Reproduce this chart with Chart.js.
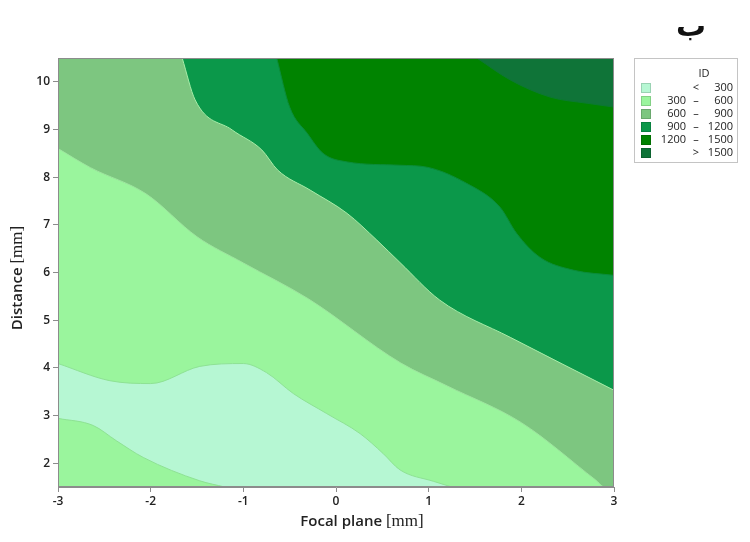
<!DOCTYPE html>
<html lang="en">
<head>
    <meta charset="UTF-8">
    <title>ID contour - Focal plane vs Distance</title>
    <style>
        html, body { margin: 0; padding: 0; background: #fff; }
        .chart-container { position: relative; width: 750px; height: 542px; }
    </style>
    <script src="https://cdn.jsdelivr.net/npm/chart.js"></script>
</head>
<body>
    <div class="chart-container">
        <canvas id="contourChart"></canvas>
    </div>

    <script>
        // axis ticks
        const xTicks = [-3, -2, -1, 0, 1, 2, 3];
        const yTicks = [2, 3, 4, 5, 6, 7, 8, 9, 10];

        // contour levels (legend rows: left value, sign, right value)
        const levelLabels = [
            ['', '<', '300'],
            ['300', '–', '600'],
            ['600', '–', '900'],
            ['900', '–', '1200'],
            ['1200', '–', '1500'],
            ['', '>', '1500']
        ];
        const levelColors = ['#b6f7d3', '#9af59d', '#7dc680', '#0b984a', '#008300', '#0f7438'];

        // contour boundaries, [focal plane, distance]
        const plotTop = [[-3, 10.5], [3, 10.5]];
        const edge300Upper = [[-3, 4.09], [-2.44, 3.73], [-2.0, 3.67], [-1.47, 4.03], [-1.0, 4.09], [-0.75, 3.9],
            [-0.46, 3.46], [-0.1, 3.04], [0.26, 2.62], [0.51, 2.2], [0.69, 1.86], [1.05, 1.62], [1.25, 1.5]];
        const edge300Lower = [[-3, 2.94], [-2.62, 2.79], [-2.37, 2.47], [-2.08, 2.12], [-1.47, 1.63], [-1.2, 1.5]];
        const edge600 = [[-3, 8.6], [-2.65, 8.2], [-2.05, 7.65], [-1.5, 6.75], [-1.0, 6.2], [-0.3, 5.45],
            [0.7, 4.1], [1.2, 3.62], [2.0, 2.85], [2.8, 1.65], [2.9, 1.5], [3, 1.5]];
        const edge900 = [[-1.66, 10.5], [-1.52, 9.62], [-1.12, 8.99], [-0.8, 8.57], [-0.63, 8.15],
            [-0.28, 7.73], [0.12, 7.24], [0.44, 6.68], [0.69, 6.21], [1.12, 5.42], [1.88, 4.64], [3, 3.53]];
        const edge1200 = [[-0.64, 10.5], [-0.5, 9.47], [-0.31, 8.92], [-0.14, 8.5], [0.12, 8.32], [0.69, 8.25],
            [0.98, 8.21], [1.41, 7.87], [1.77, 7.37], [1.95, 6.82], [2.2, 6.32], [2.56, 6.05], [3, 5.94]];
        const edge1500 = [[1.52, 10.5], [1.88, 10.04], [2.31, 9.68], [2.71, 9.55], [3, 9.47]];

        const sansFont = "'Open Sans', 'Noto Sans', sans-serif";
        const serifFont = "'Liberation Serif', 'DejaVu Serif', serif";

        // one filled boundary line; higher order is painted first (underneath)
        function region(points, fillTo, color, border, order) {
            return {
                data: points.map(p => ({ x: p[0], y: p[1] })),
                fill: fillTo,
                backgroundColor: color,
                borderColor: border,
                borderWidth: 1,
                pointRadius: 0,
                cubicInterpolationMode: 'monotone',
                order: order
            };
        }

        // draw "Text [mm]" with a sans part and a serif part
        function drawMixed(ctx, sans, serif, cx, cy) {
            const f1 = "600 15px " + sansFont;
            const f2 = "17px " + serifFont;
            ctx.font = f1;
            const w1 = ctx.measureText(sans + ' ').width;
            ctx.font = f2;
            const w2 = ctx.measureText(serif).width;
            let x = cx - (w1 + w2) / 2;
            ctx.textAlign = 'left';
            ctx.textBaseline = 'middle';
            ctx.fillStyle = '#222';
            ctx.font = f1;
            ctx.fillText(sans + ' ', x, cy);
            ctx.font = f2;
            ctx.fillText(serif, x + w1, cy);
        }

        const extras = {
            id: 'extras',
            afterDatasetsDraw(chart) {
                const a = chart.chartArea;
                const ctx = chart.ctx;
                ctx.save();
                ctx.strokeStyle = '#8c8c8c';
                ctx.lineWidth = 1;
                ctx.strokeRect(a.left + 0.5, a.top + 0.5, a.right - a.left - 1, a.bottom - a.top - 1);
                ctx.restore();
            },
            afterDraw(chart) {
                const ctx = chart.ctx;
                ctx.save();
                // axis titles
                drawMixed(ctx, 'Focal plane', '[mm]', 362, 522);
                ctx.save();
                ctx.translate(18, 278);
                ctx.rotate(-Math.PI / 2);
                drawMixed(ctx, 'Distance', '[mm]', 0, 0);
                ctx.restore();

                // panel letter
                ctx.fillStyle = '#111';
                ctx.font = "bold 30px 'DejaVu Sans', sans-serif";
                ctx.textAlign = 'center';
                ctx.textBaseline = 'alphabetic';
                ctx.fillText('ب', 691, 36);

                // legend box
                const top = 58, left = 634, step = 13, first = 88;
                const last = first + step * (levelLabels.length - 1);
                ctx.strokeStyle = '#c4c4c4';
                ctx.lineWidth = 1;
                ctx.strokeRect(left + 0.5, top + 0.5, 103, last + 9 - top);
                ctx.textBaseline = 'middle';
                ctx.fillStyle = '#222';
                ctx.font = "11px " + sansFont;
                ctx.textAlign = 'center';
                ctx.fillText('ID', 704, 74);
                levelLabels.forEach((row, i) => {
                    const y = first + i * step;
                    ctx.fillStyle = levelColors[i];
                    ctx.fillRect(641, y - 5, 10, 10);
                    ctx.strokeStyle = 'rgba(0,0,0,0.15)';
                    ctx.strokeRect(641.5, y - 4.5, 9, 9);
                    ctx.fillStyle = '#222';
                    ctx.textAlign = 'right';
                    ctx.fillText(row[0], 686, y);
                    ctx.textAlign = 'center';
                    ctx.fillText(row[1], 696, y);
                    ctx.textAlign = 'right';
                    ctx.fillText(row[2], 733, y);
                });
                ctx.restore();
            }
        };

        const tickFont = { family: sansFont, size: 12, weight: '600' };

        const ctx = document.getElementById('contourChart').getContext('2d');
        const chart = new Chart(ctx, {
            type: 'line',
            data: {
                datasets: [
                    region(plotTop, 'start', levelColors[1], 'rgba(0,0,0,0)', 7),
                    region(edge300Upper, 'start', levelColors[0], '#8ee294', 6),
                    region(edge300Lower, 'start', levelColors[1], '#8ee294', 5),
                    region(edge600, 'end', levelColors[2], '#9ee59f', 4),
                    region(edge900, 'end', levelColors[3], '#a6eda8', 3),
                    region(edge1200, 'end', levelColors[4], '#0b8c3a', 2),
                    region(edge1500, 'end', levelColors[5], '#0a7a30', 1)
                ]
            },
            options: {
                responsive: true,
                maintainAspectRatio: false,
                animation: false,
                layout: { padding: { top: 58, right: 136, left: 0, bottom: 0 } },
                plugins: {
                    legend: { display: false },
                    tooltip: { enabled: false }
                },
                scales: {
                    x: {
                        type: 'linear',
                        min: -3,
                        max: 3,
                        afterBuildTicks: axis => { axis.ticks = xTicks.map(v => ({ value: v })); },
                        afterFit: s => { s.height = 55; },
                        ticks: { font: tickFont, color: '#222', padding: 2, maxRotation: 0 },
                        grid: { drawOnChartArea: false, tickLength: 5, color: '#8c8c8c' },
                        border: { color: '#8c8c8c' }
                    },
                    y: {
                        type: 'linear',
                        min: 1.5,
                        max: 10.5,
                        afterBuildTicks: axis => { axis.ticks = yTicks.map(v => ({ value: v })); },
                        afterFit: s => { s.width = 58; },
                        ticks: { font: tickFont, color: '#222', padding: 3 },
                        grid: { drawOnChartArea: false, tickLength: 5, color: '#8c8c8c' },
                        border: { color: '#8c8c8c' }
                    }
                }
            },
            plugins: [extras]
        });
    </script>
</body>
</html>
